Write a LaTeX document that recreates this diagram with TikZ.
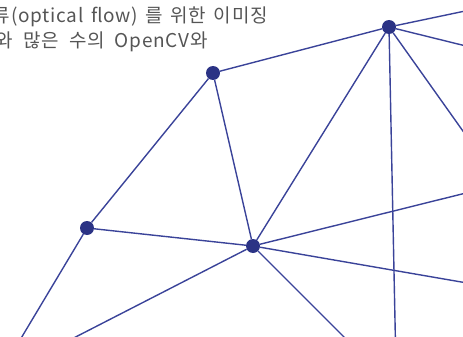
\documentclass[tikz,border=0pt]{standalone}
\usepackage{fontspec}
\newfontfamily\krfont{Noto Sans CJK KR}[LetterSpace=4]
\newcommand\capfont{\krfont\fontsize{19}{22}\selectfont}
\definecolor{netblue}{HTML}{3A4399}
\definecolor{dotblue}{HTML}{2B3385}
\definecolor{txtgray}{HTML}{555555}
\begin{document}
\begin{tikzpicture}[x=1pt,y=-1pt,
  link/.style={draw=netblue,line width=1.4pt},
  dot/.style={circle,fill=dotblue,inner sep=0pt,minimum size=14pt},
  caption/.style={text=txtgray,font=\capfont,inner sep=0pt}]
\useasboundingbox (0,0) rectangle (463,337);
\clip (0,0) rectangle (463,337);
% free ends
\coordinate (e1) at (470,10);
\coordinate (e2) at (470,47);
\coordinate (e3) at (470,141);
\coordinate (e4) at (395.5,345);
\coordinate (e5) at (470,192);
\coordinate (e6) at (470,283.5);
\coordinate (e7) at (352,345);
\coordinate (e8) at (60,345);
\coordinate (e9) at (17,345);
% nodes
\node[dot] (A) at (213,73) {};
\node[dot] (B) at (389,27) {};
\node[dot] (C) at (87,228) {};
\node[dot] (D) at (253,246) {};
% links
\draw[link] (B) -- (e1);
\draw[link] (B) -- (e2);
\draw[link] (B) -- (e3);
\draw[link] (B) -- (e4);
\draw[link] (B) -- (D);
\draw[link] (A) -- (B);
\draw[link] (A) -- (C);
\draw[link] (A) -- (D);
\draw[link] (C) -- (D);
\draw[link] (C) -- (e9);
\draw[link] (D) -- (e8);
\draw[link] (D) -- (e7);
\draw[link] (D) -- (e5);
\draw[link] (D) -- (e6);
% text
\node[caption,anchor=base east] (t1) at (268,23) {\spaceskip 7.5pt\relax 광류(optical flow) 를 위한 이미징};
\node[caption,anchor=base east] (t2) at (208,48) {\spaceskip 10pt\relax 와 많은 수의 OpenCV와};
\end{tikzpicture}
\end{document}
